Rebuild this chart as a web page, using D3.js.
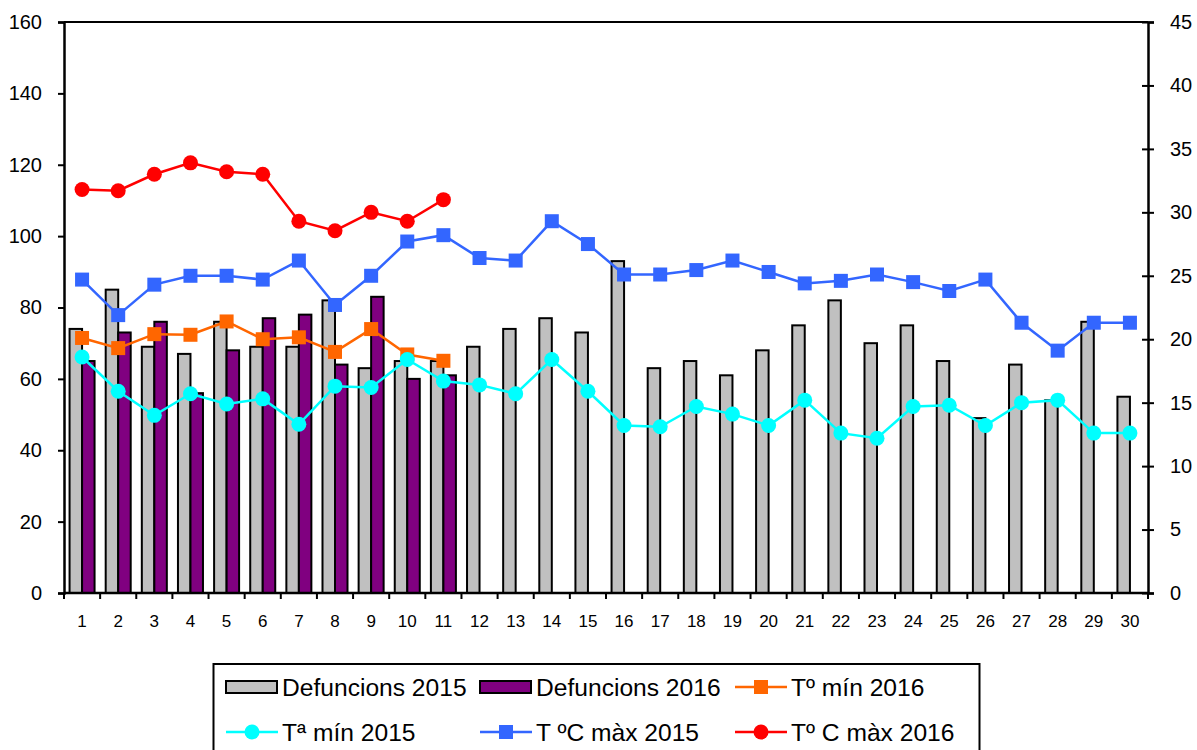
<!DOCTYPE html>
<html>
<head>
<meta charset="utf-8">
<script src="https://cdn.jsdelivr.net/npm/d3@7"></script>
<style>
  body { margin: 0; background: #fff; }
  svg { display: block; font-family: "Liberation Sans", Arial, sans-serif; }
</style>
</head>
<body>
<svg id="chart" width="1197" height="750"></svg>
<script>
const days = d3.range(1, 31).map(String);
const defuncions2015 = [74,85,69,67,76,69,69,82,63,65,65,69,74,77,73,93,63,65,61,68,75,82,70,75,65,49,64,54,76,55];
const defuncions2016 = [65,73,76,56,68,77,78,64,83,60,61];
const tMin2016 = [20.1,19.3,20.4,20.35,21.4,20.0,20.15,19.0,20.8,18.8,18.3];
const tMin2015 = [18.6,15.9,14.0,15.7,14.9,15.3,13.3,16.3,16.2,18.4,16.7,16.4,15.7,18.4,15.9,13.2,13.1,14.7,14.1,13.2,15.2,12.6,12.2,14.7,14.8,13.2,15.0,15.2,12.6,12.6];
const tMax2015 = [24.7,21.9,24.3,25.0,25.0,24.7,26.2,22.7,25.0,27.7,28.2,26.4,26.2,29.3,27.5,25.1,25.1,25.45,26.2,25.3,24.4,24.6,25.1,24.5,23.8,24.7,21.3,19.1,21.3,21.3];
const tMax2016 = [31.8,31.7,33.0,33.9,33.2,33.0,29.3,28.55,30.0,29.3,31.0];
const leftTicks = [0,20,40,60,80,100,120,140,160];
const rightTicks = [0,5,10,15,20,25,30,35,40,45];
const legendLabels = ["Defuncions 2015","Defuncions 2016","Tº mín 2016","Tª mín 2015","T ºC màx 2015","Tº C màx 2016"];

const svg = d3.select("#chart");
const L = 64, R = 1148, T = 22, B = 593;

const x = d3.scaleBand().domain(days).range([L, R]).paddingInner(0.308).paddingOuter(0.154);
const xc = d => x(d) + x.bandwidth() / 2;
const xSub = d3.scaleBand().domain(["a","b"]).range([0, x.bandwidth()]);
const yL = d3.scaleLinear().domain([0, 160]).range([B, T]);
const yR = d3.scaleLinear().domain([0, 45]).range([B, T]);

// bars
svg.append("g").selectAll("rect").data(defuncions2015).join("rect")
  .attr("x", (d, i) => x(days[i]) + xSub("a"))
  .attr("y", d => yL(d))
  .attr("width", xSub.bandwidth())
  .attr("height", d => yL(0) - yL(d))
  .attr("fill", "#C0C0C0").attr("stroke", "#000").attr("stroke-width", 2);
svg.append("g").selectAll("rect").data(defuncions2016).join("rect")
  .attr("x", (d, i) => x(days[i]) + xSub("b"))
  .attr("y", d => yL(d))
  .attr("width", xSub.bandwidth())
  .attr("height", d => yL(0) - yL(d))
  .attr("fill", "#800080").attr("stroke", "#000").attr("stroke-width", 2);

// top border
svg.append("line").attr("x1", L).attr("x2", R).attr("y1", T).attr("y2", T)
  .attr("stroke", "#000").attr("stroke-width", 2);

// axes
const gl = svg.append("g").attr("transform", `translate(${L},0)`)
  .call(d3.axisLeft(yL).tickValues(leftTicks).tickSize(6).tickPadding(16));
const gr = svg.append("g").attr("transform", `translate(${R},0)`)
  .call(d3.axisRight(yR).tickValues(rightTicks).tickSize(6).tickPadding(16));
gr.selectAll(".tick line").attr("x1", -6).attr("x2", 6);
const gb = svg.append("g").attr("transform", `translate(0,${B})`)
  .call(d3.axisBottom(x).tickSize(0).tickPadding(22));
// boundary ticks on x axis
svg.append("g").selectAll("line").data(d3.range(0, 31)).join("line")
  .attr("x1", i => L + i * x.step()).attr("x2", i => L + i * x.step())
  .attr("y1", B).attr("y2", B + 6).attr("stroke", "#000").attr("stroke-width", 2);

[gl, gr, gb].forEach(g => {
  g.selectAll(".domain").attr("stroke", "#000").attr("stroke-width", 2.5);
  g.selectAll(".tick line").attr("stroke", "#000").attr("stroke-width", 2);
  g.selectAll("text").attr("fill", "#000").attr("font-family", "Liberation Sans, Arial, sans-serif");
});
gl.selectAll("text").attr("font-size", 20);
gr.selectAll("text").attr("font-size", 20);
gb.selectAll("text").attr("font-size", 17);
gb.select(".domain").attr("d", `M${L},0H${R}`);

// lines
function drawSeries(vals, color, marker) {
  const line = d3.line().x((d, i) => xc(days[i])).y(d => yR(d));
  svg.append("path").datum(vals).attr("d", line)
    .attr("fill", "none").attr("stroke", color).attr("stroke-width", 2.5);
  const g = svg.append("g");
  if (marker === "square") {
    g.selectAll("rect").data(vals).join("rect")
      .attr("x", (d, i) => xc(days[i]) - 7).attr("y", d => yR(d) - 7)
      .attr("width", 14).attr("height", 14).attr("fill", color);
  } else {
    g.selectAll("circle").data(vals).join("circle")
      .attr("cx", (d, i) => xc(days[i])).attr("cy", d => yR(d))
      .attr("r", 7.5).attr("fill", color);
  }
}
drawSeries(tMin2016, "#FF6600", "square");
drawSeries(tMin2015, "#00FFFF", "circle");
drawSeries(tMax2015, "#3366FF", "square");
drawSeries(tMax2016, "#FF0000", "circle");

// legend
const lg = svg.append("g");
lg.append("rect").attr("x", 213.5).attr("y", 664).attr("width", 766).attr("height", 120)
  .attr("fill", "#fff").attr("stroke", "#000").attr("stroke-width", 2);
const colX = [226, 480, 735];
const rowY = [687, 732];
const items = [
  {type: "bar", color: "#C0C0C0"},
  {type: "bar", color: "#800080"},
  {type: "square", color: "#FF6600"},
  {type: "circle", color: "#00FFFF"},
  {type: "square", color: "#3366FF"},
  {type: "circle", color: "#FF0000"}
];
items.forEach((it, i) => {
  const cx0 = colX[i % 3], cy = rowY[Math.floor(i / 3)];
  if (it.type === "bar") {
    lg.append("rect").attr("x", cx0).attr("y", cy - 6).attr("width", 51).attr("height", 12)
      .attr("fill", it.color).attr("stroke", "#000").attr("stroke-width", 2);
  } else {
    lg.append("line").attr("x1", cx0).attr("x2", cx0 + 52).attr("y1", cy).attr("y2", cy)
      .attr("stroke", it.color).attr("stroke-width", 2.5);
    if (it.type === "square") {
      lg.append("rect").attr("x", cx0 + 26 - 7).attr("y", cy - 7).attr("width", 14).attr("height", 14).attr("fill", it.color);
    } else {
      lg.append("circle").attr("cx", cx0 + 26).attr("cy", cy).attr("r", 7.5).attr("fill", it.color);
    }
  }
  lg.append("text").attr("x", cx0 + 56).attr("y", cy + 8.5)
    .attr("font-size", 24.6).attr("fill", "#000").text(legendLabels[i]);
});
</script>
</body>
</html>
